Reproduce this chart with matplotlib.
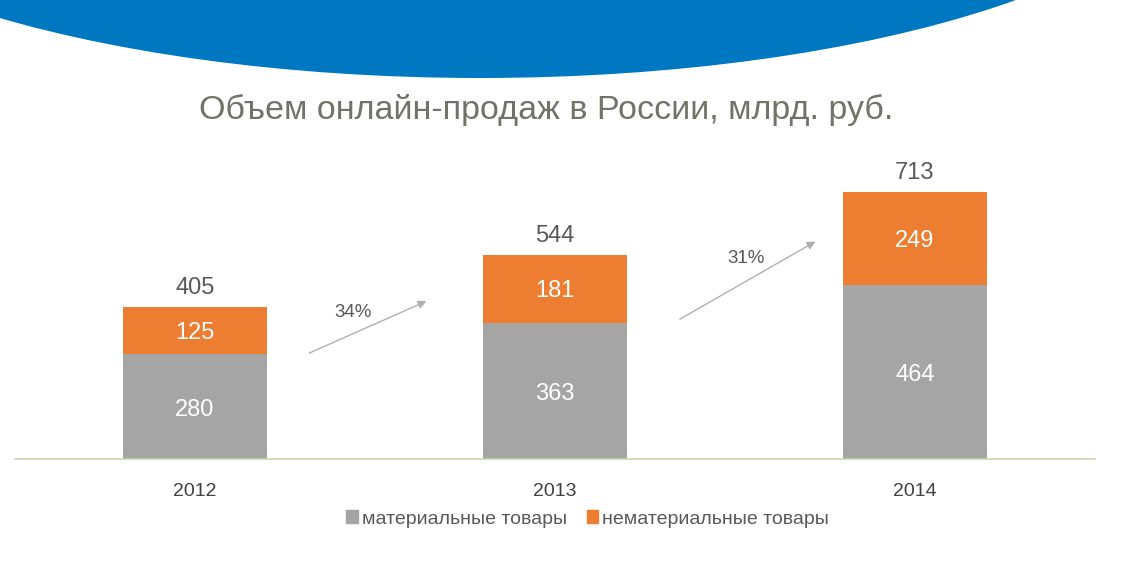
import matplotlib.pyplot as plt
from matplotlib.patches import Ellipse, Patch

years = ["2012", "2013", "2014"]
material = [280, 363, 464]
nonmaterial = [125, 181, 249]
totals = [405, 544, 713]
growth = ["34%", "31%"]

title = "Объем онлайн-продаж в России, млрд. руб."
legend_labels = ["материальные товары", "нематериальные товары"]

GREY = "#A5A5A5"
ORANGE = "#ED7D31"
BLUE = "#0078C1"

plt.rcParams["font.family"] = ["Liberation Sans", "DejaVu Sans"]

fig = plt.figure(figsize=(11.39, 5.66), dpi=100)

# background decoration (pixel coordinates)
bg = fig.add_axes([0, 0, 1, 1])
bg.set_xlim(0, 1139)
bg.set_ylim(566, 0)
bg.axis("off")
bg.add_patch(Ellipse((480, -165), 1460, 486, color=BLUE, lw=0))
bg.text(546, 110, title, fontsize=24.5, color="#737268",
        ha="center", va="center")

# main chart
ax = fig.add_axes([15 / 1139, 107 / 566, 1080 / 1139, 309 / 566])
x = list(range(len(years)))
ax.bar(x, material, width=0.4, color=GREY)
ax.bar(x, nonmaterial, width=0.4, bottom=material, color=ORANGE)
ax.set_xlim(-0.5, 2.5)
ax.set_ylim(0, 826)

for i in x:
    ax.text(i, material[i] / 2 - 8, str(material[i]), ha="center", va="center",
            fontsize=17, color="white")
    ax.text(i, material[i] + nonmaterial[i] / 2 - 5, str(nonmaterial[i]),
            ha="center", va="center", fontsize=17, color="white")
    ax.text(i, totals[i] + 22, str(totals[i]), ha="center", va="bottom",
            fontsize=17, color="#595959")

# growth arrows between bars
arrows = [((0.31, 280), (0.65, 425)), ((1.34, 370), (1.73, 585))]
for (start, end), g in zip(arrows, growth):
    ax.annotate("", xy=end, xytext=start,
                arrowprops=dict(arrowstyle="-|>", color="#B0B0B0", lw=1,
                                mutation_scale=12))
for pos, g in zip([(0.44, 392), (1.53, 535)], growth):
    ax.text(pos[0], pos[1], g, ha="center", va="center",
            fontsize=13.5, color="#595959")

for s in ["top", "right", "left"]:
    ax.spines[s].set_visible(False)
ax.spines["bottom"].set_color("#C6D9B0")
ax.spines["bottom"].set_linewidth(1.2)
ax.set_yticks([])
ax.set_xticks(x)
ax.set_xticklabels(years, fontsize=14, color="#404040")
ax.tick_params(axis="x", length=0, pad=17)

handles = [Patch(color=GREY), Patch(color=ORANGE)]
fig.legend(handles, legend_labels, loc="center", bbox_to_anchor=(0.516, 1 - 519 / 566),
           ncol=2, frameon=False, fontsize=14, labelcolor="#595959",
           handlelength=0.6, handleheight=0.6, handletextpad=0.2,
           columnspacing=1.0)

fig.savefig("out.png", dpi=100)
